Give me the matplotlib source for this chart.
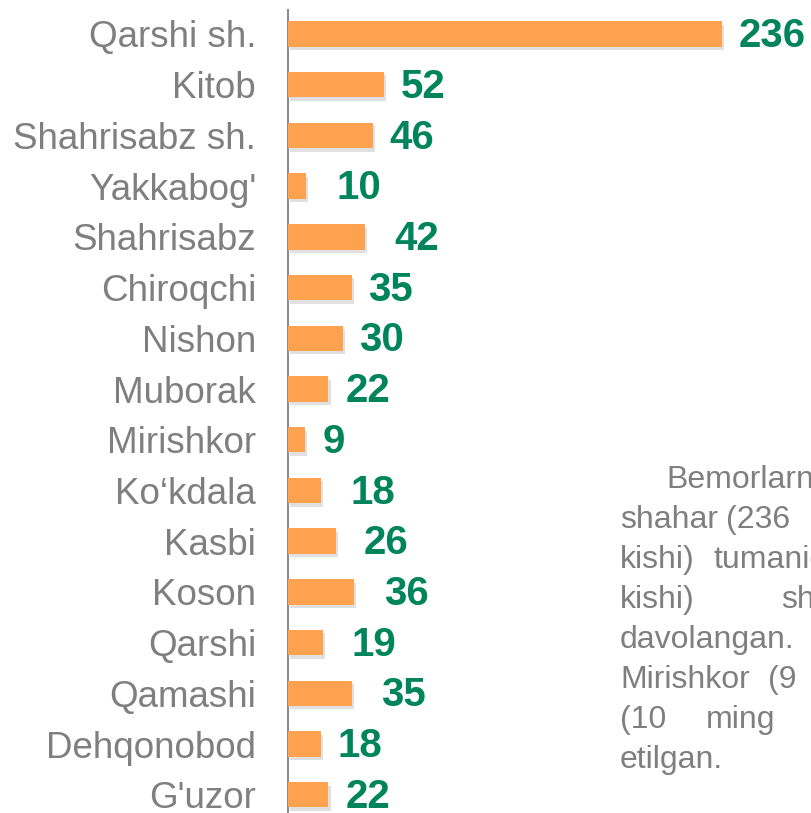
import matplotlib.pyplot as plt
import matplotlib.patheffects as pe

# data
districts = ["Qarshi sh.", "Kitob", "Shahrisabz sh.", "Yakkabog'", "Shahrisabz",
             "Chiroqchi", "Nishon", "Muborak", "Mirishkor", "Ko\u2018kdala", "Kasbi",
             "Koson", "Qarshi", "Qamashi", "Dehqonobod", "G'uzor"]
patients = [236, 52, 46, 10, 42, 35, 30, 22, 9, 18, 26, 36, 19, 35, 18, 22]
# label gap after each bar, in pixels (as placed in the original slide)
label_gap = [17, 17, 17, 30, 29, 16, 16, 17, 18, 29, 28, 30, 29, 29, 16, 17]

# side note (justified text, cut by the right edge): word x positions, baseline y, words
note_lines = [
    ([666], 488, ["Bemorlarning"]),
    ([620, 726], 528, ["shahar", "(236"]),
    ([620, 714], 568, ["kishi)", "tumanida"]),
    ([620, 781], 608, ["kishi)", "shaharida"]),
    ([620], 648, ["davolangan."]),
    ([620, 768], 688, ["Mirishkor", "(9"]),
    ([620, 706], 728, ["(10", "ming"]),
    ([620], 768, ["etilgan."]),
]

ORANGE = "#FFA24F"
GREEN = "#00855A"
GRAY = "#7F7F7F"

fig = plt.figure(figsize=(8.12, 8.13), dpi=100)
W, H = 812, 813
ax = fig.add_axes([288 / W, 0, (W - 288) / W, (H - 10) / H])

y = list(range(len(districts)))
bars = ax.barh(y, patients, height=0.5, color=ORANGE, zorder=3)
for b in bars:
    b.set_path_effects([pe.SimplePatchShadow(offset=(1.5, -2.5), shadow_rgbFace="#999999",
                                             alpha=0.3), pe.Normal()])

for i, v in enumerate(patients):
    ax.annotate(str(v), (v, i), xytext=(label_gap[i] * 0.72, -1.5), textcoords="offset points",
                ha="left", va="center", fontsize=29, fontweight="bold", color=GREEN,
                family="Liberation Sans", annotation_clip=False)

ax.set_xlim(0, 285)
ax.set_ylim(15.36, -0.473)
ax.set_yticks(y)
ax.set_yticklabels(districts, fontsize=26.5, color=GRAY, family="Liberation Sans")
ax.tick_params(axis="y", length=0, pad=23)
ax.set_xticks([])
for s in ["top", "right", "bottom"]:
    ax.spines[s].set_visible(False)
ax.spines["left"].set_color("#8C8C8C")
ax.spines["left"].set_linewidth(1.5)

for xs, y0, words in note_lines:
    for xw, w in zip(xs, words):
        fig.text(xw / W, 1 - y0 / H, w, fontsize=23, color=GRAY,
                 family="Liberation Sans", va="baseline", ha="left")

fig.savefig("out.png", dpi=100)
